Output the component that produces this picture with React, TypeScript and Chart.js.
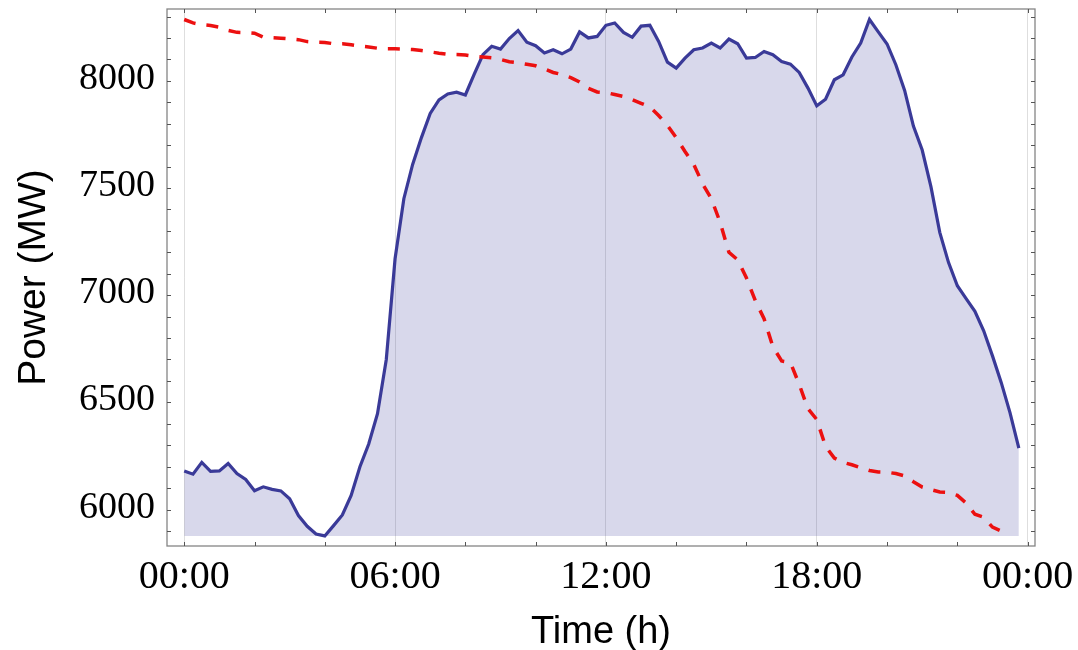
import React, { useEffect, useRef } from "react";
import { Chart, registerables } from "chart.js";

Chart.register(...registerables);

// Sampling grid: 15-minute steps, expressed in hours
const SAMPLE_STEP_H = 0.25;

// Measured load (solid blue, filled), 00:00 .. 23:45
const measuredMW = [
  6180, 6165, 6220, 6178, 6180, 6215, 6168, 6140,
  6088, 6106, 6094, 6087, 6050, 5972, 5922, 5886,
  5877, 5925, 5975, 6066, 6200, 6306, 6447, 6700,
  7170, 7450, 7610, 7735, 7848, 7911, 7939, 7947,
  7934, 8030, 8122, 8161, 8148, 8197, 8234, 8180,
  8164, 8130, 8145, 8126, 8148, 8228, 8200, 8207,
  8259, 8270, 8226, 8203, 8255, 8259, 8184, 8087,
  8059, 8106, 8145, 8153, 8176, 8153, 8195, 8173,
  8106, 8109, 8137, 8122, 8090, 8078, 8039, 7966,
  7883, 7914, 8005, 8028, 8111, 8176, 8286, 8228,
  8172, 8075, 7955, 7789, 7677, 7505, 7293, 7152,
  7044, 6984, 6925, 6834, 6717, 6592, 6451, 6287,
];

// Second series (dashed red), 00:00 .. 23:15
const dashedMW = [
  8286, 8270, 8262, 8258, 8250, 8235, 8226, 8225,
  8222, 8204, 8201, 8199, 8196, 8192, 8183, 8180,
  8179, 8173, 8173, 8168, 8162, 8158, 8152, 8150,
  8150, 8148, 8146, 8141, 8135, 8129, 8124, 8123,
  8120, 8114, 8111, 8107, 8100, 8089, 8084, 8077,
  8070, 8055, 8039, 8029, 8015, 7995, 7965, 7948,
  7945, 7936, 7927, 7912, 7895, 7878, 7838, 7792,
  7735, 7670, 7610, 7520, 7450, 7340, 7200, 7165,
  7080, 6975, 6890, 6760, 6693, 6686, 6584, 6470,
  6420, 6295, 6240, 6220, 6209, 6195, 6182, 6175,
  6174, 6168, 6157, 6130, 6105, 6093, 6082, 6080,
  6066, 6030, 5978, 5964, 5918, 5900,
];

const xTickHours = [0, 6, 12, 18, 24];
const xTickLabels = ["00:00", "06:00", "12:00", "18:00", "00:00"];
const yTickValues = [6000, 6500, 7000, 7500, 8000];

const X_MIN = -0.49;
const X_MAX = 24.21;
const Y_MIN = 5830;
const Y_MAX = 8335;

const toPoints = (vals: number[]) =>
  vals.map((v, i) => ({ x: i * SAMPLE_STEP_H, y: v }));

const framePlugin = {
  id: "frameTicks",
  afterDatasetsDraw(chart: any) {
    const { ctx, chartArea: a, scales } = chart;
    const xs = scales.x;
    const ys = scales.y;
    ctx.save();
    ctx.strokeStyle = "#858585";
    ctx.lineWidth = 1.3;
    ctx.strokeRect(a.left, a.top, a.right - a.left, a.bottom - a.top);
    ctx.strokeStyle = "#555555";
    ctx.lineWidth = 1;
    const len = 4;
    ctx.beginPath();
    for (let h = 0; h <= 24; h += 2) {
      const px = Math.round(xs.getPixelForValue(h)) + 0.5;
      ctx.moveTo(px, a.bottom);
      ctx.lineTo(px, a.bottom - len);
      ctx.moveTo(px, a.top);
      ctx.lineTo(px, a.top + len);
    }
    for (let v = 5900; v <= 8300; v += 100) {
      const py = Math.round(ys.getPixelForValue(v)) + 0.5;
      ctx.moveTo(a.left, py);
      ctx.lineTo(a.left + len, py);
      ctx.moveTo(a.right, py);
      ctx.lineTo(a.right - len, py);
    }
    ctx.stroke();
    ctx.restore();
  },
};

export default function App() {
  const canvasRef = useRef<HTMLCanvasElement | null>(null);

  useEffect(() => {
    if (!canvasRef.current) return;
    const fillBase = Math.min(...measuredMW);
    const chart = new Chart(canvasRef.current, {
      type: "line",
      data: {
        datasets: [
          {
            label: "Forecast",
            data: toPoints(dashedMW),
            borderColor: "rgb(236, 16, 16)",
            borderWidth: 3.5,
            borderDash: [12, 11],
            borderCapStyle: "butt",
            pointRadius: 0,
            fill: false,
            tension: 0,
            order: 0,
          },
          {
            label: "Load",
            data: toPoints(measuredMW),
            borderColor: "rgb(58, 58, 152)",
            backgroundColor: "rgba(61, 61, 153, 0.2)",
            borderWidth: 3.2,
            pointRadius: 0,
            fill: { value: fillBase },
            tension: 0,
            order: 1,
          },
        ],
      },
      options: {
        responsive: false,
        animation: false,
        devicePixelRatio: 1,
        layout: { padding: { top: 9, right: 43, bottom: 0, left: 0 } },
        plugins: {
          legend: { display: false },
          tooltip: { enabled: false },
        },
        scales: {
          x: {
            type: "linear",
            min: X_MIN,
            max: X_MAX,
            afterFit: (s: any) => {
              s.height = 104;
              s.paddingLeft = 0;
              s.paddingRight = 0;
            },
            afterBuildTicks: (s: any) => {
              s.ticks = xTickHours.map((v) => ({ value: v }));
            },
            ticks: {
              autoSkip: false,
              maxRotation: 0,
              padding: 7,
              color: "#000",
              font: { family: "'Liberation Serif', 'Times New Roman', serif", size: 40 },
              callback: (v: any) => {
                const i = xTickHours.indexOf(Number(v));
                return i >= 0 ? xTickLabels[i] : "";
              },
            },
            grid: {
              drawTicks: false,
              color: "rgba(0, 0, 0, 0.13)",
              lineWidth: 1,
            },
            border: { display: false },
            title: {
              display: true,
              text: "Time (h)",
              color: "#000",
              font: { family: "'Liberation Sans', Arial, sans-serif", size: 38 },
              padding: { top: 0, bottom: -5 },
            },
          },
          y: {
            type: "linear",
            min: Y_MIN,
            max: Y_MAX,
            afterFit: (s: any) => {
              s.width = 167;
              s.paddingTop = 0;
              s.paddingBottom = 0;
            },
            afterBuildTicks: (s: any) => {
              s.ticks = yTickValues.map((v) => ({ value: v }));
            },
            ticks: {
              padding: 12,
              labelOffset: -2,
              color: "#000",
              font: { family: "'Liberation Serif', 'Times New Roman', serif", size: 38 },
              callback: (v: any) => String(v),
            },
            grid: { display: false, drawTicks: false },
            border: { display: false },
            title: {
              display: true,
              text: "Power (MW)",
              color: "#000",
              font: { family: "'Liberation Sans', Arial, sans-serif", size: 39 },
              padding: { top: 11, bottom: 0 },
            },
          },
        },
      },
      plugins: [framePlugin],
    });
    return () => chart.destroy();
  }, []);

  return (
    <div style={{ position: "absolute", left: 0, top: 0, width: 1078, height: 650, background: "#fff" }}>
      <canvas ref={canvasRef} width={1078} height={650} style={{ display: "block" }} />
    </div>
  );
}
